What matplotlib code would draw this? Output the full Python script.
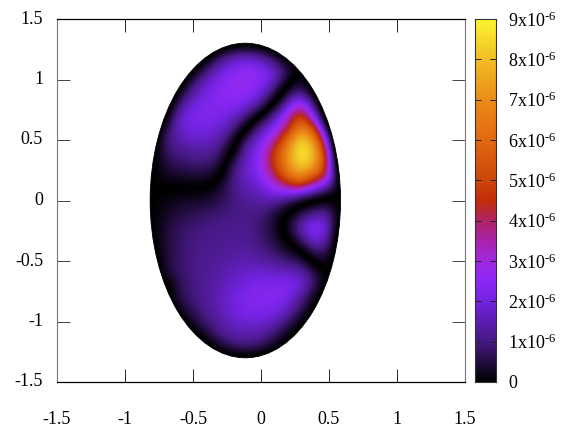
import matplotlib
matplotlib.use("Agg")
import matplotlib.pyplot as plt
from matplotlib.colors import ListedColormap
from matplotlib.patches import Ellipse
import numpy as np

plt.rcParams['font.family'] = ['Liberation Serif', 'DejaVu Serif']
plt.rcParams['mathtext.fontset'] = 'custom'
plt.rcParams['mathtext.rm'] = 'Liberation Serif'
plt.rcParams['axes.unicode_minus'] = False

# field, units of 1e-6, on a 0.1 grid
# sign only marks which side of a dark nodal line a cell is on
x_grid = [-0.815, -0.715, -0.615, -0.515, -0.415, -0.315, -0.215, -0.115, -0.015, 0.085, 0.185, 0.285, 0.385, 0.485, 0.585]
y_grid = [1.3, 1.2, 1.1, 1.0, 0.9, 0.8, 0.7, 0.6, 0.5, 0.4, 0.3, 0.2, 0.1, 0.0, -0.1, -0.2,
          -0.3, -0.4, -0.5, -0.6, -0.7, -0.8, -0.9, -1.0, -1.1, -1.2, -1.3]
field = [
    [0, 0, 0, 0, 0, 0, 0, 0, 0, 0, 0, 0, 0, 0, 0],
    [0, 0, 0, 0, 0, -.6, -1.3, -1.5, -1.3, -.6, 0, 0, 0, 0, 0],
    [0, 0, 0, 0, -.6, -1.6, -2.2, -2.5, -2.3, -1.8, -.6, 0, 0, 0, 0],
    [0, 0, 0, -.5, -1.5, -2.2, -2.6, -2.8, -2.6, -2.0, -.5, .5, 0, 0, 0],
    [0, 0, -.05, -1.2, -2.0, -2.4, -2.6, -2.6, -2.2, -1.0, .3, 1.2, .05, 0, 0],
    [0, 0, -.8, -1.9, -2.2, -2.4, -2.4, -2.2, -1.5, -.05, 1.6, 3.3, 1.2, 0, 0],
    [0, 0, -1.6, -2.2, -2.3, -2.2, -1.9, -1.2, -.05, 1.4, 2.8, 5.5, 2.6, 0, 0],
    [0, -.35, -1.7, -2.1, -2.1, -1.9, -1.4, -.1, 1.4, 2.1, 3.8, 7.0, 5.5, .6, 0],
    [0, -.8, -1.4, -1.7, -1.7, -1.5, -.5, 1.0, 2.0, 3.2, 6.0, 8.6, 7.6, 2.8, 0],
    [0, -.7, -1.0, -1.2, -1.3, -1.1, -.02, 1.6, 2.3, 4.5, 7.0, 9.0, 8.2, 4.6, 0],
    [0, -.45, -.7, -.85, -.9, -.65, .7, 1.8, 2.4, 4.6, 6.8, 8.7, 7.8, 4.8, 0],
    [0, -.2, -.3, -.4, -.4, -.1, 1.0, 1.7, 2.2, 3.7, 5.8, 7.3, 5.6, 4.2, 0],
    [0, 0, 0, 0, 0, .3, 1.0, 1.5, 1.7, 2.6, 3.2, 4.0, 2.4, 1.2, 0],
    [0, .1, .25, .3, .35, .55, .9, 1.2, 1.35, 1.5, 1.1, .3, .02, -.2, 0],
    [0, .2, .45, .6, .7, .85, 1.0, 1.05, 1.05, .6, .03, -.5, -1.1, -1.3, 0],
    [0, .35, .65, .85, .95, 1.05, 1.1, 1.15, .85, .45, -.15, -1.5, -2.5, -2.0, 0],
    [0, .4, .7, .95, 1.05, 1.1, 1.15, 1.2, .9, .55, -.03, -1.0, -2.4, -1.7, 0],
    [0, .4, .75, 1.0, 1.1, 1.15, 1.25, 1.3, 1.05, .8, .3, -.05, -1.1, -1.0, 0],
    [0, .35, .75, 1.0, 1.15, 1.25, 1.4, 1.5, 1.4, 1.2, .9, .75, -.05, -.4, 0],
    [0, .3, .7, 1.0, 1.2, 1.35, 1.6, 1.8, 1.85, 1.8, 1.7, 1.7, .7, 0, 0],
    [0, .15, .6, .95, 1.2, 1.45, 1.75, 2.0, 2.2, 2.3, 2.4, 2.0, 1.0, 0, 0],
    [0, 0, .5, .9, 1.2, 1.55, 1.95, 2.2, 2.4, 2.4, 2.2, 1.4, .25, 0, 0],
    [0, 0, .15, .7, 1.05, 1.5, 1.9, 2.2, 2.3, 2.2, 1.8, .8, 0, 0, 0],
    [0, 0, 0, .35, .9, 1.3, 1.7, 1.9, 1.9, 1.7, 1.0, .2, 0, 0, 0],
    [0, 0, 0, 0, .4, 1.0, 1.4, 1.5, 1.4, 1.0, .3, 0, 0, 0, 0],
    [0, 0, 0, 0, 0, .35, .85, 1.0, .85, .35, 0, 0, 0, 0, 0],
    [0, 0, 0, 0, 0, 0, 0, 0, 0, 0, 0, 0, 0, 0, 0],
]

xticks = [-1.5, -1, -0.5, 0, 0.5, 1, 1.5]
yticks = [-1.5, -1, -0.5, 0, 0.5, 1, 1.5]
tick_labels = ['-1.5', '-1', '-0.5', '0', '0.5', '1', '1.5']
cb_ticks = [0, 1, 2, 3, 4, 5, 6, 7, 8, 9]
cb_labels = ['0'] + [r'$\mathregular{%dx10^{\text{-}6}}$' % i for i in range(1, 10)]
vmax = 9.0

# palette colours
pal_pos = [0, 1, 2, 2.5, 3, 3.5, 4, 4.5, 5, 6, 7, 8, 9]
pal_r = [0, 70, 115, 140, 160, 170, 175, 195, 205, 225, 235, 240, 252]
pal_g = [0, 25, 35, 40, 40, 35, 35, 45, 70, 105, 140, 190, 245]
pal_b = [0, 130, 225, 245, 225, 170, 100, 10, 10, 15, 25, 35, 50]

W, H = 571, 433
fs = 13
cx, a, b = -0.115, 0.7, 1.3
power = 0.7


def rgb(v):
    v = np.asarray(v)
    return np.stack([np.interp(v, pal_pos, pal_r), np.interp(v, pal_pos, pal_g),
                     np.interp(v, pal_pos, pal_b)], axis=-1) / 255


# interpolate in a signed, compressed space so the nodal lines stay thin and black
root = np.linspace(-1, 1, 2049)
fold_cmap = ListedColormap(rgb(vmax * np.abs(root) ** (1 / power)))
plain_cmap = ListedColormap(rgb(np.linspace(0, vmax, 512)))

f = np.array(field, dtype=float)
s = np.sign(f) * (np.abs(f) / vmax) ** power

# cells outside the ellipse get the mirrored value with opposite sign,
# this keeps the edge of the image sharp, they are clipped away anyway
pad = 2
xp = x_grid[0] + 0.1 * (np.arange(s.shape[1] + 2 * pad) - pad)
yp = y_grid[0] - 0.1 * (np.arange(s.shape[0] + 2 * pad) - pad)
sp = np.zeros((len(yp), len(xp)))
for i, y in enumerate(yp):
    for j, x in enumerate(xp):
        r = np.hypot((x - cx) / a, y / b)
        if r < 1:
            sp[i, j] = s[i - pad, j - pad]
        elif r > 0:
            k = max(2 - r, 0.05) / r
            ix = np.clip((cx + (x - cx) * k - x_grid[0]) / 0.1, 0, s.shape[1] - 1.001)
            iy = np.clip((y_grid[0] - y * k) / 0.1, 0, s.shape[0] - 1.001)
            j0, i0 = int(ix), int(iy)
            u, w = ix - j0, iy - i0
            sp[i, j] = -((1 - u) * (1 - w) * s[i0, j0] + u * (1 - w) * s[i0, j0 + 1]
                         + (1 - u) * w * s[i0 + 1, j0] + u * w * s[i0 + 1, j0 + 1])

fig = plt.figure(figsize=(W / 100, H / 100), dpi=100)
ax = fig.add_axes([57 / W, (H - 382) / H, (465 - 57) / W, (382 - 19) / H])

dx = 0.05
im = ax.imshow(sp, extent=[xp[0] - dx, xp[-1] + dx, yp[-1] - dx, yp[0] + dx],
               cmap=fold_cmap, vmin=-1, vmax=1, interpolation='bicubic',
               interpolation_stage='data', aspect='auto', zorder=1)
edge = Ellipse((cx, 0), 2 * a, 2 * b, fill=False, ec='black', lw=0.6, zorder=2)
ax.add_patch(edge)
im.set_clip_path(edge)

ax.set_xlim(-1.5, 1.5)
ax.set_ylim(-1.5, 1.5)
ax.set_xticks(xticks)
ax.set_xticklabels(tick_labels)
ax.set_yticks(yticks)
ax.set_yticklabels(tick_labels, va='center')
ax.tick_params(axis='x', direction='in', length=9.4, width=0.7, top=True, pad=21, labelsize=fs, color='#222222')
ax.tick_params(axis='y', direction='in', length=9.4, width=0.7, right=True, pad=10, labelsize=fs, color='#444444')
for side in ['left', 'right']:
    ax.spines[side].set_linewidth(0.8)
    ax.spines[side].set_color('#777777')
for side in ['top', 'bottom']:
    ax.spines[side].set_linewidth(0.9)
    ax.spines[side].set_color('black')

cax = fig.add_axes([475 / W, (H - 382) / H, (496 - 475) / W, (382 - 19) / H])
grad = np.linspace(vmax, 0, 512).reshape(-1, 1)
cax.imshow(grad, extent=[0, 1, 0, vmax], cmap=plain_cmap, vmin=0, vmax=vmax, aspect='auto')
cax.set_xticks([])
cax.set_xlim(0, 1)
cax.set_ylim(0, vmax)
cax.yaxis.tick_right()
cax.set_yticks(cb_ticks)
cax.set_yticklabels(cb_labels)
cax.tick_params(axis='y', direction='in', length=4.5, width=0.7, left=True, right=True, pad=9, labelsize=fs, color='#222222')
for spine in cax.spines.values():
    spine.set_linewidth(0.8)
    spine.set_color('#333333')

fig.savefig('out.png', dpi=100)
